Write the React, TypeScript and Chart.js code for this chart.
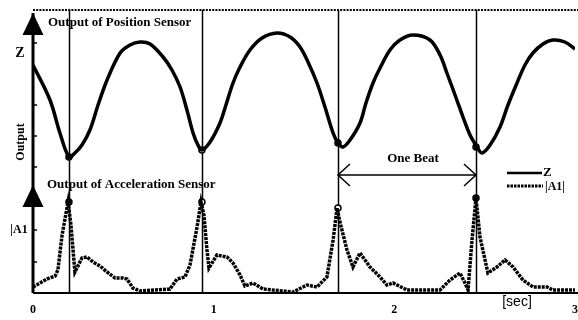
import React, { useEffect, useRef } from "react";
import { Chart, registerables } from "chart.js";

Chart.register(...registerables);

// Position sensor output Z (time in s, height in arbitrary units above baseline)
const zTime = [0, 0.094, 0.149, 0.199, 0.232, 0.271, 0.315, 0.36, 0.41, 0.482, 0.537, 0.592, 0.648, 0.72, 0.769, 0.814, 0.852, 0.886, 0.913, 0.935, 0.98, 1.035, 1.068, 1.107, 1.146, 1.201, 1.268, 1.351, 1.423, 1.478, 1.522, 1.572, 1.616, 1.661, 1.688, 1.716, 1.755, 1.81, 1.843, 1.882, 1.921, 1.976, 2.031, 2.103, 2.197, 2.253, 2.291, 2.336, 2.38, 2.419, 2.458, 2.485, 2.53, 2.585, 2.629, 2.679, 2.723, 2.767, 2.823, 2.878, 2.944, 3.0];
const zValue = [228, 193, 160, 136, 140, 148, 163, 188, 213, 240, 248, 251, 249, 236, 223, 206, 183, 160, 148, 143, 151, 170, 188, 210, 226, 243, 255, 260, 256, 246, 231, 210, 186, 160, 150, 146, 153, 170, 190, 210, 225, 243, 253, 258, 253, 238, 220, 198, 176, 158, 146, 140, 148, 166, 188, 210, 228, 240, 249, 253, 251, 244];

// Acceleration sensor output |A1|
const aTime = [0, 0.039, 0.077, 0.122, 0.138, 0.161, 0.194, 0.21, 0.232, 0.271, 0.299, 0.332, 0.371, 0.41, 0.454, 0.498, 0.52, 0.553, 0.592, 0.758, 0.797, 0.841, 0.869, 0.908, 0.93, 0.946, 0.963, 0.974, 1.018, 1.074, 1.107, 1.146, 1.173, 1.218, 1.273, 1.439, 1.517, 1.572, 1.627, 1.661, 1.683, 1.699, 1.738, 1.771, 1.81, 1.865, 1.921, 1.959, 1.993, 2.026, 2.07, 2.253, 2.308, 2.363, 2.391, 2.408, 2.43, 2.452, 2.474, 2.518, 2.568, 2.613, 2.657, 2.712, 2.767, 2.845, 2.878, 3.0];
const aValue = [6, 10, 14, 17, 23, 58, 91, 68, 21, 35, 36, 31, 27, 21, 15, 15, 14, 5, 2, 4, 14, 16, 28, 66, 91, 78, 43, 25, 38, 36, 30, 18, 7, 10, 4, 1, 8, 6, 16, 53, 85, 71, 43, 26, 40, 26, 16, 8, 10, 7, 3, 3, 13, 20, 10, 3, 53, 95, 56, 20, 26, 33, 26, 13, 6, 6, 3, 3];

// Beat instants (vertical lines) and their marked values
const beatTimes = [0.199, 0.935, 1.688, 2.452];
const zBeatValue = [136, 143, 150, 146];
const aBeatValue = [91, 91, 85, 95];

const xTicks = [0, 1, 2, 3];
const yMax = 283;
const upperTicks = [250, 188, 157, 126];
const lowerTicks = [63, 31];
const upperArrowTip = 280;
const lowerArrowTip = 108;

const SERIF = "'Liberation Serif', 'Times New Roman', serif";

const decor = {
  id: "decor",
  beforeDatasetsDraw(chart: any) {
    const { ctx, scales } = chart;
    const x = scales.x, y = scales.y;
    const top = y.getPixelForValue(yMax);
    const base = y.getPixelForValue(0);
    ctx.save();
    ctx.strokeStyle = "#000";
    // dotted top line
    ctx.lineWidth = 2;
    ctx.setLineDash([2, 1.2]);
    ctx.beginPath();
    ctx.moveTo(x.left, top);
    ctx.lineTo(chart.width, top);
    ctx.stroke();
    ctx.setLineDash([]);
    // beat lines
    ctx.lineWidth = 1.5;
    beatTimes.forEach((t) => {
      const px = Math.round(x.getPixelForValue(t)) + 0.5;
      ctx.beginPath();
      ctx.moveTo(px, top);
      ctx.lineTo(px, base);
      ctx.stroke();
    });
    // baseline
    ctx.lineWidth = 2;
    ctx.beginPath();
    ctx.moveTo(x.left, base);
    ctx.lineTo(chart.width, base);
    ctx.stroke();
    ctx.restore();
  },
  afterDatasetsDraw(chart: any) {
    const { ctx, scales } = chart;
    const x = scales.x, y = scales.y;
    const ax = x.getPixelForValue(0);
    const top = y.getPixelForValue(yMax);
    const base = y.getPixelForValue(0);
    ctx.save();
    ctx.fillStyle = "#000";
    ctx.strokeStyle = "#000";
    // y axis line
    ctx.lineWidth = 3;
    ctx.beginPath();
    ctx.moveTo(ax, top + 3);
    ctx.lineTo(ax, base);
    ctx.stroke();
    // arrows
    const arrow = (tipV: number) => {
      const ty = y.getPixelForValue(tipV);
      ctx.beginPath();
      ctx.moveTo(ax, ty);
      ctx.lineTo(ax - 10.5, ty + 22);
      ctx.lineTo(ax + 10.5, ty + 22);
      ctx.closePath();
      ctx.fill();
    };
    arrow(upperArrowTip);
    arrow(lowerArrowTip);
    // ticks
    ctx.lineWidth = 1.5;
    [...upperTicks, ...lowerTicks].forEach((v) => {
      const py = y.getPixelForValue(v);
      ctx.beginPath();
      ctx.moveTo(ax, py);
      ctx.lineTo(ax + 4, py);
      ctx.stroke();
    });
    // axis labels
    ctx.textBaseline = "middle";
    ctx.textAlign = "center";
    ctx.font = `bold 14px ${SERIF}`;
    ctx.fillText("Z", 20, y.getPixelForValue(240));
    ctx.font = `bold 12px ${SERIF}`;
    ctx.fillText("|A1", 19, y.getPixelForValue(63));
    ctx.save();
    ctx.translate(21, y.getPixelForValue(151));
    ctx.rotate(-Math.PI / 2);
    ctx.font = `bold 12px ${SERIF}`;
    ctx.fillText("Output", 0, 0);
    ctx.restore();
    // titles
    ctx.textAlign = "left";
    ctx.font = `bold 13px ${SERIF}`;
    ctx.fillText("Output of Position Sensor", 48, 23);
    ctx.fillText("Output of Acceleration Sensor", 47, 185);
    // one beat
    const b1 = x.getPixelForValue(beatTimes[2]);
    const b2 = x.getPixelForValue(beatTimes[3]);
    ctx.textAlign = "center";
    ctx.fillText("One Beat", 413, 159);
    const ay = 175;
    ctx.lineWidth = 1.5;
    ctx.beginPath();
    ctx.moveTo(b1, ay);
    ctx.lineTo(b2, ay);
    ctx.moveTo(b1 + 12, ay - 11);
    ctx.lineTo(b1, ay);
    ctx.lineTo(b1 + 12, ay + 11);
    ctx.moveTo(b2 - 12, ay - 11);
    ctx.lineTo(b2, ay);
    ctx.lineTo(b2 - 12, ay + 11);
    ctx.stroke();
    // legend
    ctx.lineWidth = 2.5;
    ctx.beginPath();
    ctx.moveTo(507, 173);
    ctx.lineTo(542, 173);
    ctx.stroke();
    ctx.setLineDash([2.5, 1]);
    ctx.lineWidth = 3;
    ctx.beginPath();
    ctx.moveTo(507, 186);
    ctx.lineTo(543, 186);
    ctx.stroke();
    ctx.setLineDash([]);
    ctx.textAlign = "left";
    ctx.font = `bold 13px ${SERIF}`;
    ctx.fillText("Z", 543, 173);
    ctx.font = `bold 12px ${SERIF}`;
    ctx.fillText("|A1|", 545, 187);
    // unit
    ctx.font = `14px 'Liberation Sans', Arial, sans-serif`;
    ctx.textAlign = "center";
    ctx.fillText("[sec]", 517, 302);
    ctx.restore();
  },
};

export default function App() {
  const ref = useRef<HTMLCanvasElement | null>(null);
  useEffect(() => {
    document.body.style.margin = "0";
    const canvas = ref.current;
    if (!canvas) return;
    const chart = new Chart(canvas, {
      type: "line",
      data: {
        datasets: [
          {
            label: "Z",
            data: zTime.map((t, i) => ({ x: t, y: zValue[i] })),
            borderColor: "#000",
            borderWidth: 3.5,
            pointRadius: 0,
            tension: 0.35,
            fill: false,
          },
          {
            label: "|A1|",
            data: aTime.map((t, i) => ({ x: t, y: aValue[i] })),
            borderColor: "#000",
            borderWidth: 3.5,
            borderDash: [3, 1],
            pointRadius: 0,
            tension: 0,
            fill: false,
          },
          {
            label: "Z beats",
            data: beatTimes.map((t, i) => ({ x: t, y: zBeatValue[i] })),
            showLine: false,
            pointRadius: 3,
            pointBorderWidth: 1.5,
            pointBorderColor: "#000",
            pointBackgroundColor: ["#000", "#fff", "#000", "#000"],
          },
          {
            label: "A beats",
            data: beatTimes.map((t, i) => ({ x: t, y: aBeatValue[i] })),
            showLine: false,
            pointRadius: 3,
            pointBorderWidth: 1.5,
            pointBorderColor: "#000",
            pointBackgroundColor: ["#000", "#fff", "#fff", "#000"],
          },
        ],
      },
      options: {
        responsive: false,
        animation: false,
        layout: { autoPadding: false, padding: { left: 33, right: 3, top: 10, bottom: 0 } },
        plugins: { legend: { display: false }, tooltip: { enabled: false } },
        scales: {
          x: {
            type: "linear",
            min: 0,
            max: 3,
            afterBuildTicks: (s: any) => {
              s.ticks = xTicks.map((v) => ({ value: v }));
            },
            afterFit: (s: any) => {
              s.height = 27;
              s.paddingLeft = 0;
              s.paddingRight = 0;
            },
            ticks: {
              color: "#000",
              padding: 10,
              maxRotation: 0,
              font: { family: SERIF, weight: "bold", size: 12 },
            },
            grid: { display: false, drawTicks: false },
            border: { display: false },
          },
          y: {
            type: "linear",
            min: 0,
            max: yMax,
            display: false,
          },
        },
      },
      plugins: [decor],
    } as any);
    return () => chart.destroy();
  }, []);
  return (
    <div style={{ position: "absolute", left: 0, top: 0, width: 578, height: 320, background: "#fff" }}>
      <canvas ref={ref} width={578} height={320} />
    </div>
  );
}
